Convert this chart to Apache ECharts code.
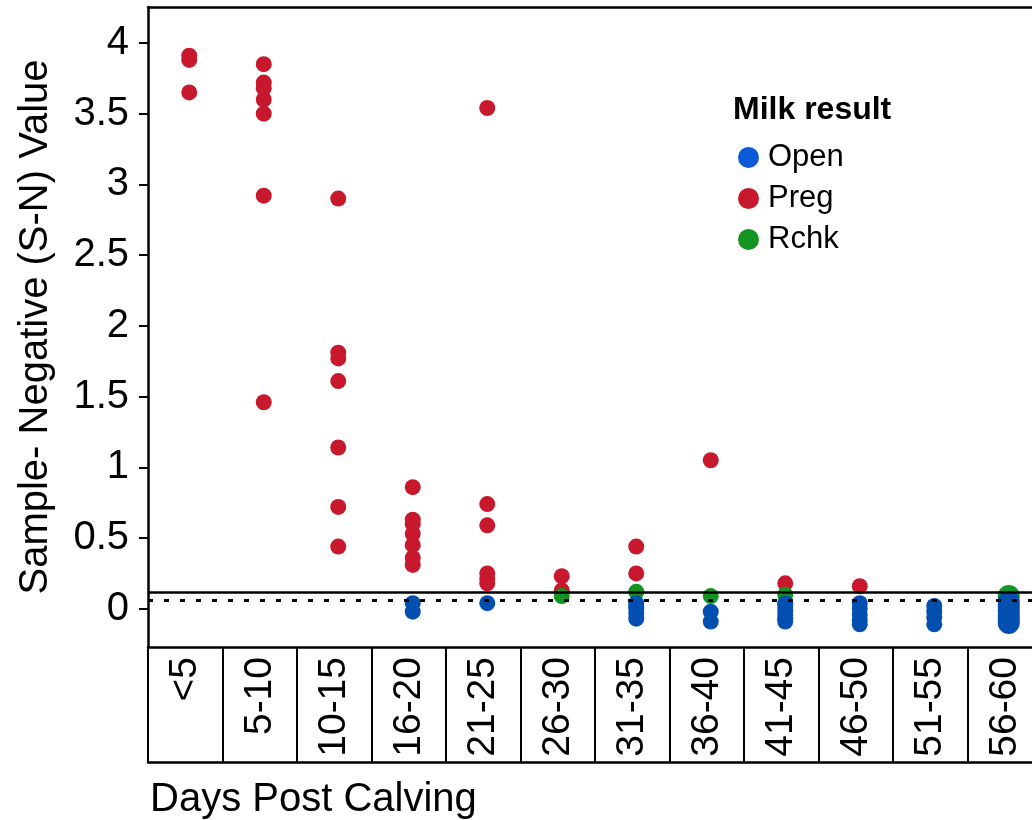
<!DOCTYPE html>
<html>
<head>
<meta charset="utf-8">
<script src="https://cdn.jsdelivr.net/npm/echarts@6/dist/echarts.min.js"></script>
<style>
  html, body { margin: 0; padding: 0; background: #ffffff; }
  #chart { width: 1032px; height: 820px; }
</style>
</head>
<body>
<div id="chart"></div>
<script>
// Days-post-calving groups along the x axis
const categories = ['<5', '5-10', '10-15', '16-20', '21-25', '26-30', '31-35', '36-40', '41-45', '46-50', '51-55', '56-60'];

// S-N values per group, one inner list per category (same order as above)
const pregValues = [
  [3.91, 3.88, 3.65],
  [3.85, 3.72, 3.68, 3.60, 3.50, 2.92, 1.46],
  [2.90, 1.81, 1.77, 1.61, 1.14, 0.72, 0.44],
  [0.86, 0.63, 0.60, 0.53, 0.45, 0.36, 0.31],
  [3.54, 0.74, 0.59, 0.25, 0.21, 0.18],
  [0.23, 0.13],
  [0.44, 0.25],
  [1.05],
  [0.18],
  [0.16],
  [],
  []
];
const rchkValues = [
  [], [], [], [], [],
  [0.09],
  [0.12],
  [0.09],
  [0.10],
  [],
  [],
  [0.09]
];
const openValues = [
  [], [], [],
  [0.04, -0.02],
  [0.04],
  [],
  [0.04, 0.02, 0.00, -0.03, -0.07],
  [-0.02, -0.09],
  [0.04, 0.02, -0.01, -0.04, -0.07, -0.09],
  [0.04, 0.00, -0.04, -0.08, -0.11],
  [0.02, -0.02, -0.06, -0.11],
  [0.05, 0.02, -0.01, -0.04, -0.07, -0.10]
];

// Reference cut-offs
const cutoffSolid = 0.115;
const cutoffDashed = 0.06;

// Y tick labels
const yTicks = [0, 0.5, 1, 1.5, 2, 2.5, 3, 3.5, 4];

const FONT = "'Liberation Sans', Arial, Helvetica, sans-serif";
const colors = { Open: '#034fb0', Preg: '#c8182d', Rchk: '#149420' };
const legendColors = { Open: '#0a5ad8', Preg: '#c8182d', Rchk: '#149420' };

function toPoints(groups) {
  const pts = [];
  groups.forEach((vals, i) => vals.forEach(v => pts.push([categories[i], v])));
  return pts;
}

function scatter(name, groups, extra) {
  return Object.assign({
    name: name,
    type: 'scatter',
    xAxisIndex: 0,
    yAxisIndex: 0,
    data: toPoints(groups),
    symbol: 'circle',
    symbolSize: v => (v[0] === '56-60' ? 22 : 16),
    symbolOffset: [4, 0],
    itemStyle: { color: colors[name], opacity: 1 },
    emphasis: { disabled: true }
  }, extra || {});
}

const chart = echarts.init(document.getElementById('chart'), null, { renderer: 'canvas' });

chart.setOption({
  animation: false,
  backgroundColor: '#ffffff',
  textStyle: { fontFamily: FONT },
  // the plot runs past the right edge of the page, so no bounds clamping
  grid: { left: 148, top: 7, width: 894, height: 640, containLabel: false, outerBoundsMode: 'none' },
  xAxis: [
    {
      // main category axis with the boxed label table below it
      type: 'category',
      data: categories,
      position: 'bottom',
      boundaryGap: true,
      axisLine: { show: true, onZero: false, lineStyle: { color: '#000', width: 2.5 } },
      axisTick: { show: true, interval: 0, alignWithLabel: false, length: 115, lineStyle: { color: '#000', width: 2 } },
      axisLabel: { show: true, interval: 0, rotate: 90, margin: 10, color: '#000', fontSize: 39, fontFamily: FONT },
      splitLine: { show: false }
    },
    {
      // bottom edge of the label table
      type: 'category',
      data: categories,
      position: 'bottom',
      offset: 115,
      axisLine: { show: true, onZero: false, lineStyle: { color: '#000', width: 2.5 } },
      axisTick: { show: false },
      axisLabel: { show: false }
    },
    {
      // top frame line
      type: 'category',
      data: categories,
      position: 'top',
      axisLine: { show: true, onZero: false, lineStyle: { color: '#000', width: 2.5 } },
      axisTick: { show: false },
      axisLabel: { show: false }
    }
  ],
  yAxis: {
    type: 'value',
    min: -0.27,
    max: 4.254,
    name: 'Sample- Negative (S-N) Value',
    nameLocation: 'middle',
    nameGap: 92,
    nameTextStyle: { color: '#000', fontSize: 40, fontFamily: FONT },
    axisLine: { show: true, onZero: false, lineStyle: { color: '#000', width: 2.5 } },
    axisTick: { show: true, length: 9, customValues: yTicks, lineStyle: { color: '#000', width: 2 } },
    axisLabel: { show: true, margin: 19, color: '#000', fontSize: 40, fontFamily: FONT, customValues: yTicks },
    splitLine: { show: false }
  },
  legend: {
    show: true,
    orient: 'vertical',
    left: 733,
    top: 137,
    itemWidth: 21,
    itemHeight: 21,
    itemGap: 10,
    icon: 'circle',
    selectedMode: false,
    textStyle: { color: '#000', fontSize: 31, lineHeight: 30, fontFamily: FONT, padding: [0, 0, 0, 4] },
    data: ['Open', 'Preg', 'Rchk'].map(n => ({ name: n, itemStyle: { color: legendColors[n] } }))
  },
  graphic: [
    {
      type: 'text',
      left: 733,
      top: 94,
      style: { text: 'Milk result', fill: '#000', font: 'bold 32px ' + FONT }
    },
    {
      type: 'text',
      left: 150,
      top: 780,
      style: { text: 'Days Post Calving', fill: '#000', font: '40px ' + FONT }
    }
  ],
  series: [
    scatter('Preg', pregValues, {
      z: 2,
      markLine: {
        silent: true,
        symbol: 'none',
        label: { show: false },
        data: [
          { yAxis: cutoffSolid, lineStyle: { color: '#000', width: 2.5, type: 'solid' } },
          { yAxis: cutoffDashed, lineStyle: { color: '#000', width: 3, type: [5, 11] } }
        ]
      }
    }),
    scatter('Rchk', rchkValues, { z: 3 }),
    scatter('Open', openValues, { z: 4 })
  ]
});
</script>
</body>
</html>
